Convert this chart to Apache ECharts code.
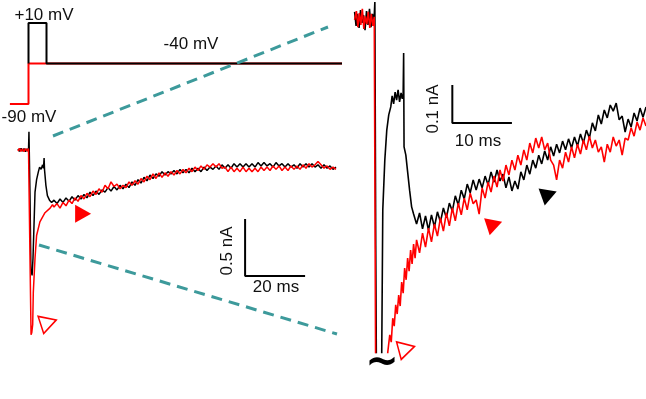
<!DOCTYPE html>
<html>
<head>
<meta charset="utf-8">
<script src="https://cdn.jsdelivr.net/npm/echarts@6/dist/echarts.min.js"></script>
<style>
  html, body { margin: 0; padding: 0; background: #fff; }
  #chart { width: 646px; height: 399px; }
</style>
</head>
<body>
<div id="chart"></div>
<script>
// voltage protocol, [ms, mV]
const protoRed = [[-6.7, -90], [-0.5, -90], [-0.5, -40], [104, -40]]
const protoBlack = [[-0.5, -40], [-0.5, 10], [5.5, 10], [5.5, -40], [104, -40]]

// left traces, [ms, nA] around the step, then samples every leftDt ms from leftT0
const leftT0 = 8
const leftDt = 1
const leftBlackOnset = [[-4, 0.01], [-3.5, -0.012], [-3, 0.014], [-2.5, -0.01], [-2, 0.012], [-1.5, -0.014], [-1, 0.01], [-0.5, -0.012],
  [-0.35, 0.16], [0, -0.4], [0.3, -1.05], [0.7, -1.1], [1, -0.95], [1.67, -0.37], [2.2, -0.26], [2.8, -0.19], [3.2, -0.15],
  [3.7, -0.17], [4.2, -0.13], [4.5, -0.16], [4.7, -0.07], [4.85, -0.175], [5.3, -0.31], [5.8, -0.4], [6.5, -0.44], [7.2, -0.46]]
const leftBlackTail = [-0.44, -0.47, -0.43, -0.46, -0.42, -0.45, -0.41, -0.44, -0.40, -0.43, -0.39, -0.42, -0.37, -0.40, -0.36, -0.39,
  -0.35, -0.37, -0.33, -0.36, -0.32, -0.35, -0.31, -0.34, -0.30, -0.33, -0.28, -0.31, -0.26, -0.29, -0.24, -0.27, -0.22, -0.25,
  -0.21, -0.23, -0.19, -0.22, -0.19, -0.21, -0.18, -0.21, -0.17, -0.20, -0.17, -0.20, -0.16, -0.19, -0.16, -0.19, -0.15, -0.18,
  -0.15, -0.17, -0.14, -0.17, -0.13, -0.16, -0.13, -0.16, -0.12, -0.15, -0.12, -0.15, -0.12, -0.15, -0.12, -0.15, -0.11, -0.14,
  -0.11, -0.14, -0.12, -0.15, -0.11, -0.14, -0.12, -0.15, -0.12, -0.15, -0.13, -0.16, -0.12, -0.15, -0.12, -0.15, -0.12, -0.15,
  -0.13, -0.16, -0.13, -0.16, -0.14, -0.17, -0.15]
const leftRedOnset = [[-4, -0.01], [-3.5, 0.014], [-3, -0.012], [-2.5, 0.01], [-2, -0.014], [-1.5, 0.012], [-1, -0.01], [-0.5, 0.012],
  [0.1, -0.005], [0.35, -1.62], [0.6, -1.6], [0.9, -1.53], [1.1, -1.25], [1.67, -0.95], [2.2, -0.75], [3.3, -0.63], [5, -0.55],
  [6.7, -0.51], [7.5, -0.48]]
const leftRedTail = [-0.50, -0.47, -0.51, -0.46, -0.49, -0.44, -0.47, -0.42, -0.45, -0.40, -0.43, -0.38, -0.41, -0.36, -0.39, -0.34,
  -0.37, -0.31, -0.34, -0.28, -0.32, -0.30, -0.34, -0.31, -0.33, -0.28, -0.31, -0.27, -0.30, -0.25, -0.28, -0.23, -0.26, -0.21,
  -0.25, -0.20, -0.24, -0.20, -0.23, -0.19, -0.22, -0.18, -0.21, -0.17, -0.20, -0.16, -0.19, -0.15, -0.18, -0.14, -0.17, -0.13,
  -0.15, -0.12, -0.15, -0.12, -0.16, -0.15, -0.19, -0.15, -0.19, -0.16, -0.19, -0.15, -0.19, -0.16, -0.19, -0.16, -0.19, -0.15,
  -0.18, -0.15, -0.18, -0.14, -0.17, -0.14, -0.18, -0.15, -0.18, -0.14, -0.17, -0.14, -0.17, -0.13, -0.16, -0.12, -0.15, -0.13,
  -0.10, -0.13, -0.16, -0.14, -0.17, -0.15, -0.17]

// zoomed traces (right), same layout: onset pairs then samples every zoomDt ms
const zoomT0 = 7
const zoomDt = 0.5
const zoomBlackOnset = [[-3.4, 0.016], [-3.15, -0.021], [-2.9, 0.011], [-2.65, -0.026], [-2.4, 0.021], [-2.15, -0.013], [-1.9, 0.008],
  [-1.65, -0.032], [-1.4, 0.018], [-1.15, -0.018], [-0.9, 0.024], [-0.65, -0.024], [-0.4, 0.011], [-0.15, -0.011], [0, 0.042],
  [0.15, -0.6], [0.35, -1.2], [0.8, -1.3], [1.1, -1.0], [1.33, -0.505], [1.67, -0.374], [2, -0.295], [2.33, -0.255], [2.67, -0.234],
  [2.9, -0.205], [3.15, -0.226], [3.4, -0.195], [3.65, -0.216], [3.9, -0.189], [4.15, -0.221], [4.4, -0.197], [4.6, -0.213],
  [4.75, -0.2], [4.83, -0.092], [4.9, -0.339], [5.2, -0.361], [5.5, -0.405], [5.83, -0.453], [6.17, -0.497], [6.5, -0.516]]
const zoomBlackTail = [-0.542, -0.513, -0.555, -0.521, -0.558, -0.518, -0.550, -0.510, -0.537, -0.500, -0.526, -0.487, -0.508,
  -0.468, -0.492, -0.453, -0.476, -0.437, -0.460, -0.426, -0.453, -0.424, -0.447, -0.416, -0.439, -0.405, -0.432, -0.400, -0.429,
  -0.411, -0.447, -0.418, -0.455, -0.429, -0.450, -0.405, -0.426, -0.387, -0.411, -0.374, -0.395, -0.361, -0.384, -0.350, -0.374,
  -0.339, -0.363, -0.332, -0.355, -0.324, -0.347, -0.318, -0.342, -0.313, -0.337, -0.305, -0.329, -0.295, -0.316, -0.276, -0.297,
  -0.255, -0.279, -0.242, -0.263, -0.229, -0.245, -0.224, -0.268, -0.258, -0.300, -0.266, -0.287, -0.250, -0.271, -0.237, -0.261,
  -0.234]
const zoomRedOnset = [[-3.4, -0.005], [-3.1, 0.018], [-2.85, -0.024], [-2.6, 0.013], [-2.35, -0.018], [-2.1, 0.024], [-1.85, -0.029],
  [-1.6, 0.005], [-1.35, -0.016], [-1.1, 0.016], [-0.85, -0.026], [-0.6, 0.011], [-0.35, -0.021], [-0.1, 0.003], [0.05, 0],
  [0.2, -1.2], [0.4, -1.65], [1, -1.45], [1.8, -1.0], [2.17, -0.879], [2.5, -0.834], [2.75, -0.853], [3, -0.79], [3.25, -0.811],
  [3.5, -0.755], [3.75, -0.779], [4, -0.729], [4.25, -0.758], [4.5, -0.695], [4.75, -0.724], [5, -0.658], [5.25, -0.689],
  [5.5, -0.632], [5.75, -0.666], [6, -0.611], [6.25, -0.647], [6.5, -0.595], [6.75, -0.632]]
const zoomRedTail = [-0.584, -0.618, -0.566, -0.603, -0.553, -0.589, -0.542, -0.574, -0.526, -0.561, -0.513, -0.547, -0.500,
  -0.534, -0.487, -0.518, -0.474, -0.505, -0.461, -0.489, -0.479, -0.516, -0.447, -0.474, -0.432, -0.458, -0.416, -0.445, -0.400,
  -0.429, -0.387, -0.413, -0.374, -0.400, -0.361, -0.387, -0.347, -0.374, -0.329, -0.355, -0.316, -0.342, -0.313, -0.347, -0.329,
  -0.374, -0.387, -0.426, -0.374, -0.395, -0.353, -0.379, -0.339, -0.368, -0.332, -0.358, -0.321, -0.347, -0.311, -0.342, -0.321,
  -0.353, -0.339, -0.379, -0.332, -0.353, -0.313, -0.337, -0.321, -0.361, -0.316, -0.321, -0.289, -0.311, -0.274, -0.295, -0.263,
  -0.284]

// scale bars: size in ms / nA, corner position [ms, nA]
const leftBar = { ms: 20, nA: 0.5, at: [71.7, -1.105] }
const zoomBar = { ms: 10, nA: 0.1, at: [13, -0.276] }

// arrowheads [ms, nA]
const leftFilledArrow = [17.7, -0.56]
const leftOpenArrow = [6.17, -1.513]
const zoomBlackArrow = [29.25, -0.464]
const zoomFilledArrow = [20.08, -0.543]
const zoomOpenArrow = [5.33, -0.87]

const RED = '#ff0000'
const BLACK = '#000000'
const TEAL = '#3d9a9b'
const FONT = '"Liberation Sans", Arial, sans-serif'

function trace(onset, tail, t0, dt) {
  return onset.concat(tail.map((v, i) => [t0 + i * dt, v]))
}

function scaleBar(bar) {
  const [x, y] = bar.at
  return [[x, y + bar.nA], [x, y], [x + bar.ms, y]]
}

function line(idx, data, color, width) {
  return {
    type: 'line', xAxisIndex: idx, yAxisIndex: idx, data,
    symbol: 'none', lineStyle: { color, width }, z: 3
  }
}

function arrow(idx, pos, rot, filled, color) {
  return {
    type: 'scatter', xAxisIndex: idx, yAxisIndex: idx, clip: false,
    data: [pos], symbol: 'triangle', symbolSize: [18, 16], symbolRotate: rot,
    itemStyle: filled
      ? { color, opacity: 1 }
      : { color: '#fff', borderColor: color, borderWidth: 1.6, opacity: 1 },
    z: 5
  }
}

function label(text, x, y, rotation) {
  return {
    type: 'text', x, y, rotation: rotation || 0, z: 50,
    style: { text, font: '17px ' + FONT, fill: '#111', align: 'center', verticalAlign: 'middle' }
  }
}

function dashed(x1, y1, x2, y2) {
  return {
    type: 'line', z: 60,
    shape: { x1, y1, x2, y2 },
    style: { stroke: TEAL, lineWidth: 3, lineDash: [11, 7] }
  }
}

const chart = echarts.init(document.getElementById('chart'))

chart.setOption({
  animation: false,
  backgroundColor: '#fff',
  grid: [
    { left: 9, top: 15, width: 333, height: 97 },
    { left: 18, top: 127.2, width: 318, height: 216.6 },
    { left: 354, top: 0.9, width: 294, height: 351.5 }
  ],
  xAxis: [
    { type: 'value', gridIndex: 0, min: -7, max: 104, show: false },
    { type: 'value', gridIndex: 1, min: -4, max: 102, show: false },
    { type: 'value', gridIndex: 2, min: -3.5, max: 45.5, show: false }
  ],
  yAxis: [
    { type: 'value', gridIndex: 0, min: -100, max: 20, show: false },
    { type: 'value', gridIndex: 1, min: -1.7, max: 0.2, show: false },
    { type: 'value', gridIndex: 2, min: -0.88, max: 0.045, show: false }
  ],
  series: [
    line(0, protoRed, RED, 2),
    line(0, protoBlack, BLACK, 2),
    line(1, trace(leftBlackOnset, leftBlackTail, leftT0, leftDt), BLACK, 1.5),
    line(1, trace(leftRedOnset, leftRedTail, leftT0, leftDt), RED, 1.5),
    line(2, trace(zoomBlackOnset, zoomBlackTail, zoomT0, zoomDt), BLACK, 1.6),
    line(2, trace(zoomRedOnset, zoomRedTail, zoomT0, zoomDt), RED, 1.6),
    line(1, scaleBar(leftBar), BLACK, 2),
    line(2, scaleBar(zoomBar), BLACK, 2),
    arrow(1, leftFilledArrow, -90, true, RED),
    arrow(1, leftOpenArrow, -72, false, RED),
    arrow(2, zoomBlackArrow, -70, true, BLACK),
    arrow(2, zoomFilledArrow, -72, true, RED),
    arrow(2, zoomOpenArrow, -75, false, RED)
  ],
  graphic: [
    dashed(53, 136, 328, 27),
    dashed(39, 245, 337, 334),
    label('+10 mV', 44, 15),
    label('-40 mV', 191, 44),
    label('-90 mV', 29, 117),
    label('0.5 nA', 227, 251, Math.PI / 2),
    label('20 ms', 276, 287),
    label('0.1 nA', 433, 109, Math.PI / 2),
    label('10 ms', 478, 141),
    {
      type: 'text', x: 382, y: 364, z: 50,
      style: { text: '~', font: 'bold 40px "DejaVu Sans", sans-serif', fill: '#000', align: 'center', verticalAlign: 'middle' }
    }
  ]
})
</script>
</body>
</html>
